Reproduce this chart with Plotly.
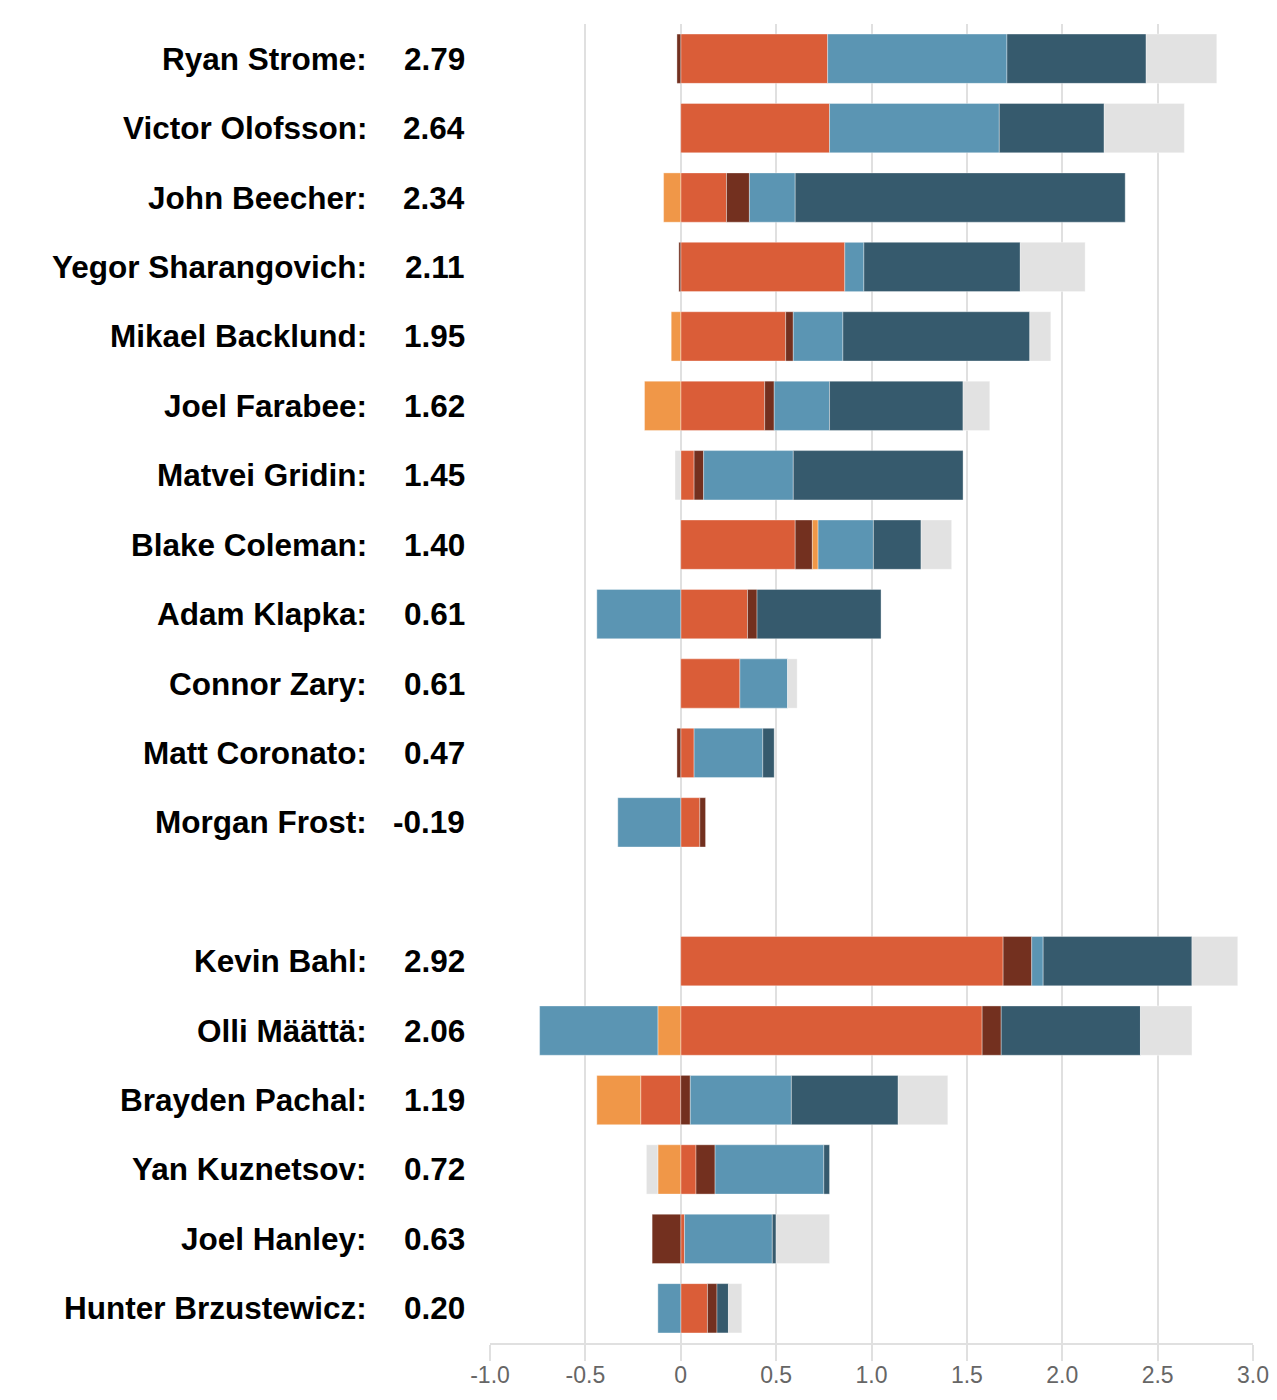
import plotly.graph_objects as go

# ---- data ----
forwards = ["Ryan Strome", "Victor Olofsson", "John Beecher", "Yegor Sharangovich",
            "Mikael Backlund", "Joel Farabee", "Matvei Gridin", "Blake Coleman",
            "Adam Klapka", "Connor Zary", "Matt Coronato", "Morgan Frost"]
defense = ["Kevin Bahl", "Olli Määttä", "Brayden Pachal", "Yan Kuznetsov",
           "Joel Hanley", "Hunter Brzustewicz"]
totals = ["2.79", "2.64", "2.34", "2.11", "1.95", "1.62", "1.45", "1.40", "0.61",
          "0.61", "0.47", "-0.19",
          "2.92", "2.06", "1.19", "0.72", "0.63", "0.20"]

comp1 = [0.77, 0.78, 0.24, 0.86, 0.55, 0.44, 0.07, 0.60, 0.35, 0.31, 0.07, 0.10,
         1.69, 1.58, -0.21, 0.08, 0.02, 0.14]
comp2 = [-0.02, 0, 0.12, -0.01, 0.04, 0.05, 0.05, 0.09, 0.05, 0, -0.02, 0.03,
         0.15, 0.10, 0.05, 0.10, -0.15, 0.05]
comp3 = [0, 0, -0.09, 0, -0.05, -0.19, 0, 0.03, 0, 0, 0, 0,
         0, -0.12, -0.23, -0.12, 0, 0]
comp4 = [0.94, 0.89, 0.24, 0.10, 0.26, 0.29, 0.47, 0.29, -0.44, 0.25, 0.36, -0.33,
         0.06, -0.62, 0.53, 0.57, 0.46, -0.12]
comp5 = [0.73, 0.55, 1.73, 0.82, 0.98, 0.70, 0.89, 0.25, 0.65, 0, 0.06, 0,
         0.78, 0.73, 0.56, 0.03, 0.02, 0.06]
comp6 = [0.37, 0.42, 0, 0.34, 0.11, 0.14, -0.03, 0.16, 0, 0.05, 0, 0,
         0.24, 0.27, 0.26, -0.06, 0.28, 0.07]

components = [comp1, comp2, comp3, comp4, comp5, comp6]
comp_names = ["Component 1", "Component 2", "Component 3",
              "Component 4", "Component 5", "Component 6"]
colors = ["#DA5D38", "#73301F", "#F09748", "#5B95B3", "#365A6D", "#E2E2E2"]

tick_vals = [-1.0, -0.5, 0, 0.5, 1.0, 1.5, 2.0, 2.5, 3.0]
tick_text = ["-1.0", "-0.5", "0", "0.5", "1.0", "1.5", "2.0", "2.5", "3.0"]

# ---- row positions: forwards, one blank row, defense ----
players = forwards + defense
ypos = list(range(len(forwards))) + [len(forwards) + 1 + i for i in range(len(defense))]
n_rows = len(forwards) + 1 + len(defense)

fig = go.Figure()
for vals, name, col in zip(components, comp_names, colors):
    fig.add_trace(go.Bar(
        x=[v if v != 0 else None for v in vals],
        y=ypos,
        orientation="h",
        name=name,
        marker=dict(color=col, line=dict(color="rgba(255,255,255,0.35)", width=1)),
        width=0.71,
        hoverinfo="x+name",
    ))

# page body has an 8px margin, so the figure sits at (8, 8); keep page within window
W, H = 1261, 1384
L, R, T, B = 482, 16, 16, 49
plot_w = W - L - R

FONT = "Liberation Sans, Arial, sans-serif"
annotations = []
name_x = (369 - 8 - L) / plot_w
val_x = (467 - 8 - L) / plot_w
for p, t, y in zip(players, totals, ypos):
    annotations.append(dict(x=name_x, y=y, xref="paper", yref="y", text="<b>%s:</b>" % p,
                            showarrow=False, xanchor="right", yanchor="middle",
                            font=dict(family=FONT, size=31.5, color="#000")))
    annotations.append(dict(x=val_x, y=y, xref="paper", yref="y", text="<b>%s</b>" % t,
                            showarrow=False, xanchor="right", yanchor="middle",
                            font=dict(family=FONT, size=31.5, color="#000")))

fig.update_layout(
    width=W, height=H,
    margin=dict(l=L, r=R, t=T, b=B, pad=0, autoexpand=False),
    barmode="relative",
    showlegend=False,
    plot_bgcolor="white",
    paper_bgcolor="white",
    annotations=annotations,
    xaxis=dict(range=[-1, 3], tickvals=tick_vals, ticktext=tick_text,
               automargin=False, ticklabeloverflow="allow",
               showgrid=True, gridcolor="#E0E0E0", gridwidth=1.5,
               zeroline=False, showline=True, linecolor="#E0E0E0", linewidth=1.5,
               ticks="outside", ticklen=16, tickcolor="#E0E0E0", tickwidth=1.5,
               ticklabelstandoff=-5,
               tickfont=dict(family=FONT, size=23, color="#666")),
    yaxis=dict(range=[n_rows - 0.5, -0.5], showticklabels=False, showgrid=False,
               zeroline=False, showline=False, automargin=False),
)

fig.write_html("out.html")
